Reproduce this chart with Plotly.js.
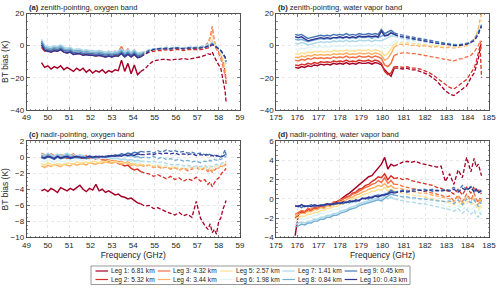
<!DOCTYPE html>
<html><head><meta charset="utf-8">
<script src="https://cdn.plot.ly/plotly-3.0.1.min.js"></script>
<style>html,body{margin:0;padding:0;background:#fff}#chart{width:500px;height:289px}</style>
</head><body><div id="chart"></div>
<script>
// ---------- categories / labels ----------
const LEG_LABELS = ['Leg 1: 6.81 km','Leg 2: 5.32 km','Leg 3: 4.32 km','Leg 4: 3.44 km','Leg 5: 2.57 km',
                    'Leg 6: 1.98 km','Leg 7: 1.41 km','Leg 8: 0.84 km','Leg 9: 0.45 km','Leg 10: 0.43 km'];
const COLORS = ['#a50026','#d73027','#f46d43','#fdae61','#fee090','#e0f3f8','#abd9e9','#74add1','#4575b4','#313695'];
const PANEL_TITLES = ['<b>(a)</b> zenith-pointing, oxygen band','<b>(b)</b> zenith-pointing, water vapor band',
                      '<b>(c)</b> nadir-pointing, oxygen band','<b>(d)</b> nadir-pointing, water vapor band'];

// ---------- frequency grids (GHz) ----------
const FREQ_O2 = [49.70,49.85,50.00,50.15,50.30,50.45,50.60,50.75, 50.90,51.05,51.20,51.35,51.50,51.65,51.80,51.95,
  52.10,52.25,52.40,52.55,52.70,52.85,53.00,53.15, 53.30,53.45,53.60,53.75,53.90,54.05,54.20,54.35,
  54.55,54.75,54.95,55.15,55.35,55.55,55.75,55.95, 56.15,56.35,56.55,56.75,56.95,57.15,57.35,57.50,
  57.60,57.70,57.80,57.90,58.00,58.10,58.20,58.30, 58.35];
const FREQ_WV = [175.90,176.05,176.20,176.35,176.50,176.65,176.80,176.95, 177.10,177.25,177.40,177.55,177.70,177.85,178.00,178.15,
  178.30,178.45,178.60,178.75,178.90,179.05,179.20,179.35, 179.50,179.65,179.80,179.95,180.10,180.25,180.40,180.55,
  180.75,180.95,181.15,181.35,181.55,181.75,181.95,182.15, 182.35,182.55,182.75,182.95,183.15,183.35,183.55,183.75,
  183.95,184.15,184.30,184.40,184.50,184.58,184.65];
const SOLID_END_O2 = 54.35;   // channels above are dashed
const SOLID_END_WV = 180.55;

// ---------- (a) zenith, oxygen band: BT bias (K) ----------
const zenO2_leg1 = [-10.5,-13.5,-12.5,-14.5,-13.0,-14.0,-12.5,-15.0, -13.5,-14.5,-16.0,-14.0,-15.5,-14.0,-16.5,-15.0,
  -17.0,-15.5,-16.5,-15.0,-17.0,-15.5,-16.5,-15.0, -15.5,-9.0,-16.0,-11.0,-17.5,-12.0,-18.0,-16.0,
  -14.5,-11.5,-9.5,-9.0,-8.5,-8.5,-9.0,-8.5, -8.5,-8.0,-8.5,-8.0,-7.5,-7.0,-6.0,-5.0, -5.5,-4.0,-7.0,-10.0,-12.0,-14.0,-20.0,-28.0, -35.0];
const zenO2_leg2 = [-1.0,-3.5,-3.0,-4.0,-3.0,-3.5,-2.5,-4.0, -4.5,-4.0,-5.5,-5.0,-5.0,-6.0,-5.5,-6.0,
  -6.0,-6.5,-6.0,-6.5,-7.0,-6.5,-7.0,-6.0, -6.5,-4.0,-6.5,-5.0,-7.0,-5.5,-7.5,-6.5,
  -5.5,-4.0,-3.5,-3.0,-3.0,-2.5,-3.0,-2.5, -2.5,-3.0,-2.5,-2.5,-2.5,-2.5,-2.0,-1.5, -1.0,3.0,0.0,-2.0,-4.0,-6.0,-10.0,-16.0, -24.0];
const zenO2_leg3 = [2.0,-0.5,-1.0,-1.5,-0.5,-1.0,0.0,-1.5, -2.0,-1.5,-3.0,-2.5,-2.5,-3.5,-3.0,-3.5,
  -3.5,-4.0,-3.0,-4.0,-4.5,-3.5,-4.5,-3.5, -4.0,-0.5,-4.5,-2.0,-5.0,-2.5,-5.5,-4.5,
  -4.0,-3.0,-2.5,-2.0,-2.0,-1.5,-2.0,-1.5, -1.5,-2.0,-1.5,-1.5,-1.5,-1.0,-0.5,2.0, 5.0,12.0,3.0,-2.0,-5.0,-8.0,-13.0,-18.0, -21.0];
const zenO2_leg4 = [1.5,-1.5,-1.5,-2.0,-1.0,-1.5,-0.5,-2.0, -2.5,-2.0,-3.5,-3.0,-3.0,-4.0,-3.5,-4.0,
  -4.0,-4.5,-4.0,-4.5,-5.0,-4.5,-5.0,-4.5, -5.0,-2.0,-5.0,-3.0,-5.5,-3.5,-6.0,-5.0,
  -4.0,-3.0,-2.5,-2.0,-2.0,-1.5,-2.0,-1.5, -1.5,-2.0,-1.5,-1.5,-1.5,-1.0,-0.5,1.0, 4.0,8.0,2.0,-1.5,-4.0,-6.0,-10.0,-15.0, -19.0];
const zenO2_leg5 = [2.5,-1.0,-1.5,-2.0,-1.0,-1.5,-0.5,-2.0, -2.5,-2.0,-3.5,-3.0,-3.0,-4.0,-3.5,-4.0,
  -4.0,-4.5,-4.0,-4.5,-5.0,-4.5,-5.0,-4.5, -4.5,-2.5,-5.0,-3.5,-5.0,-3.5,-5.5,-5.0,
  -4.0,-3.0,-2.5,-2.0,-2.0,-1.5,-1.5,-1.5, -1.5,-1.5,-1.5,-1.5,-1.0,-1.0,-0.5,0.0, 2.0,4.0,1.0,-1.0,-3.0,-5.0,-8.0,-12.0, -16.0];
const zenO2_leg6 = [3.0,-0.5,-1.0,-1.5,-0.5,-1.0,0.0,-1.5, -2.0,-1.5,-3.0,-2.5,-2.5,-3.5,-3.0,-3.5,
  -3.5,-4.0,-3.5,-4.0,-4.5,-4.0,-4.5,-4.0, -4.0,-2.5,-4.5,-3.0,-4.5,-3.0,-5.0,-4.5,
  -3.5,-2.5,-2.0,-1.5,-1.5,-1.0,-1.5,-1.0, -1.0,-1.5,-1.0,-1.0,-1.0,-0.5,0.0,0.5, 1.5,2.5,1.0,-0.5,-2.0,-4.0,-6.0,-10.0, -14.0];
const zenO2_leg7 = [4.0,0.0,-0.5,-1.0,0.0,-0.5,0.5,-1.0, -1.5,-1.0,-2.5,-2.0,-2.0,-3.0,-2.5,-3.0,
  -3.0,-3.5,-3.0,-3.5,-4.0,-3.5,-4.0,-3.5, -3.5,-2.0,-4.0,-2.5,-4.0,-2.5,-4.5,-4.0,
  -3.5,-2.5,-2.0,-1.5,-1.5,-1.0,-1.5,-1.0, -1.0,-1.5,-1.0,-1.0,-1.0,-0.5,0.0,0.5, 1.0,2.0,1.0,0.0,-1.5,-3.0,-5.0,-8.0, -12.0];
const zenO2_leg8 = [3.0,-1.0,-1.5,-2.0,-1.0,-1.5,-0.5,-2.0, -2.5,-2.0,-3.5,-3.0,-3.0,-4.0,-3.5,-4.0,
  -4.0,-4.5,-4.0,-4.5,-5.0,-4.5,-5.0,-4.5, -4.5,-3.0,-5.0,-3.5,-5.0,-3.5,-5.5,-5.0,
  -4.0,-3.0,-2.0,-2.0,-1.5,-1.5,-1.5,-1.0, -1.5,-1.5,-1.0,-1.0,-1.0,-1.0,-0.5,0.0, 0.5,1.5,0.5,-0.5,-2.0,-3.0,-5.0,-7.0, -10.0];
const zenO2_leg9 = [2.0,-2.0,-2.5,-3.0,-2.0,-2.5,-1.5,-3.0, -3.5,-3.0,-4.5,-4.0,-4.0,-5.0,-4.5,-5.0,
  -5.0,-5.5,-5.0,-5.5,-6.0,-5.5,-6.0,-5.5, -5.5,-4.0,-6.0,-4.5,-6.0,-4.5,-6.5,-6.0,
  -4.5,-3.0,-2.5,-2.0,-2.0,-1.5,-2.0,-1.5, -1.5,-2.0,-1.5,-1.5,-1.5,-1.0,-1.0,-0.5, 0.0,1.0,0.0,-1.0,-2.0,-3.0,-5.0,-7.0, -10.0];
const zenO2_leg10 = [0.5,-3.0,-3.5,-4.0,-3.0,-3.5,-2.5,-4.0, -4.5,-4.0,-5.5,-5.0,-5.0,-6.0,-5.5,-6.0,
  -6.0,-6.5,-6.0,-6.5,-7.0,-6.5,-7.0,-6.5, -6.5,-5.0,-7.0,-5.5,-7.0,-5.5,-7.5,-7.0,
  -5.0,-3.5,-2.5,-2.0,-2.0,-2.0,-2.0,-1.5, -1.5,-2.0,-1.5,-1.5,-1.5,-1.5,-1.0,-0.5, 0.0,0.5,0.0,-1.0,-2.0,-3.0,-5.0,-7.0, -9.0];

// ---------- (b) zenith, water vapor band ----------
const zenWV_leg1 = [-13.5,-14.0,-13.0,-13.5,-12.5,-13.0,-12.0,-12.5, -11.5,-12.0,-11.5,-12.0,-11.0,-11.5,-11.0,-11.5,
  -10.5,-11.5,-11.0,-11.5,-10.5,-11.0,-11.0,-10.5, -11.5,-10.5,-11.0,-12.0,-15.0,-17.0,-19.0,-14.0,
  -14.0,-14.5,-14.0,-15.0,-15.0,-16.0,-17.0,-18.0, -20.0,-22.0,-25.0,-28.0,-30.0,-31.0,-29.0,-27.0, -25.0,-20.0,-17.0,-13.0,-8.0,-2.0,3.0];
const zenWV_leg2 = [-12.0,-12.5,-11.5,-12.0,-11.0,-11.5,-10.5,-11.0, -10.0,-10.5,-10.0,-10.5,-9.5,-10.0,-9.5,-10.0,
  -9.0,-10.0,-9.5,-10.0,-9.0,-9.5,-9.5,-9.0, -10.0,-9.0,-9.5,-11.0,-16.0,-18.0,-17.0,-13.0,
  -13.0,-13.5,-13.0,-14.0,-14.0,-14.5,-15.5,-16.5, -18.0,-20.0,-22.0,-24.0,-26.0,-27.0,-25.0,-23.0, -21.0,-17.0,-14.0,-10.0,-5.0,0.0,-20.0];
const zenWV_leg3 = [-9.0,-9.5,-8.5,-9.0,-8.0,-8.5,-7.5,-8.0, -7.5,-8.0,-7.5,-8.0,-7.0,-7.5,-7.0,-7.5,
  -6.5,-7.5,-7.0,-7.5,-6.5,-7.0,-7.0,-6.5, -7.5,-6.5,-7.0,-8.0,-12.0,-13.0,-11.0,-6.0,
  -5.0,-4.5,-4.5,-5.0,-5.0,-5.5,-6.0,-6.5, -7.0,-7.5,-8.0,-8.5,-9.0,-9.5,-8.5,-8.0, -7.0,-6.0,-4.0,-2.0,0.0,3.0,-2.0];
const zenWV_leg4 = [-7.0,-7.5,-6.5,-7.0,-6.0,-6.5,-5.5,-6.0, -5.5,-6.0,-5.5,-6.0,-5.0,-5.5,-5.0,-5.5,
  -4.5,-5.5,-5.0,-5.5,-4.5,-5.0,-5.0,-4.5, -5.5,-4.5,-5.0,-6.0,-9.0,-8.0,-5.0,-1.0,
  1.0,0.5,1.0,0.0,0.5,-0.5,0.0,-0.5, -1.0,-0.5,-1.0,-1.5,-1.0,-1.5,-1.0,-0.5, 0.0,2.0,4.0,7.0,11.0,16.0,20.0];
const zenWV_leg5 = [-5.0,-5.5,-4.5,-5.0,-4.0,-4.5,-3.5,-4.0, -3.5,-4.0,-3.5,-4.0,-3.0,-3.5,-3.0,-3.5,
  -2.5,-3.5,-3.0,-3.5,-2.5,-3.0,-3.0,-2.5, -3.5,-2.5,-3.0,-4.0,-6.0,-5.0,-2.0,1.0,
  2.0,1.5,2.0,1.0,1.5,0.5,1.0,0.0, 0.5,0.0,-0.5,0.0,-0.5,-1.0,-0.5,0.0, 1.0,2.5,4.5,7.0,10.0,14.0,16.0];
const zenWV_leg6 = [-2.0,-2.5,-1.5,-2.0,-1.0,-1.5,-0.5,-1.0, -0.5,-1.0,-0.5,-1.0,0.0,-0.5,0.0,-0.5,
  0.5,-0.5,0.0,-0.5,0.5,0.0,0.0,0.5, -0.5,0.5,0.0,-1.0,-2.0,-1.0,1.0,3.0,
  3.0,2.5,3.0,2.0,2.5,1.5,2.0,1.0, 1.5,1.0,0.5,1.0,0.5,0.0,0.5,0.0, 1.0,2.0,4.0,6.0,9.0,12.0,14.0];
const zenWV_leg7 = [1.5,1.0,2.0,1.5,0.5,1.0,1.5,2.0, 2.5,2.0,2.5,2.0,3.0,2.5,3.0,2.5,
  3.5,2.5,3.0,2.5,3.5,3.0,3.0,3.5, 2.5,3.5,3.0,3.0,4.0,5.0,6.0,6.0,
  5.0,4.5,4.0,3.5,3.5,3.0,2.5,2.0, 2.5,1.5,1.5,1.0,1.5,1.0,0.5,1.0, 1.5,2.5,4.0,6.0,9.0,11.0,12.0];
const zenWV_leg8 = [4.0,3.5,4.0,3.0,2.5,3.0,3.5,4.0, 4.5,4.0,4.5,4.0,5.0,4.5,5.0,4.5,
  5.5,4.5,5.0,4.5,5.5,5.0,5.0,5.5, 4.5,5.5,5.0,6.0,6.5,7.0,8.0,7.0,
  6.0,5.5,5.0,4.5,4.0,3.5,3.0,2.5, 2.0,1.5,1.5,1.0,1.0,0.5,0.5,1.0, 1.5,2.5,4.0,6.0,8.0,11.0,12.0];
const zenWV_leg9 = [7.0,6.5,7.0,5.5,4.5,5.0,5.5,6.0, 6.5,6.0,6.5,6.0,7.0,6.5,7.0,6.5,
  7.5,6.5,7.0,6.5,7.5,7.0,7.0,7.5, 7.0,7.5,7.0,10.0,7.5,8.5,9.5,8.0,
  7.0,6.5,6.0,5.5,5.0,4.5,4.0,3.5, 3.0,2.5,2.0,1.5,1.0,0.5,0.5,0.5, 1.0,2.0,3.5,5.0,8.0,11.0,13.0];
const zenWV_leg10 = [5.5,5.0,5.5,4.0,3.0,3.5,4.0,4.5, 5.0,4.5,5.0,4.5,5.0,5.0,5.5,5.0,
  5.5,5.0,5.5,5.0,6.0,5.5,5.5,6.0, 5.5,6.0,5.5,9.0,6.0,6.5,8.0,7.0,
  6.0,5.5,5.0,4.5,4.0,3.5,3.0,2.5, 2.0,1.5,1.0,1.0,0.5,0.0,0.0,0.5, 1.0,2.0,3.0,5.0,7.0,10.0,12.0];

// ---------- (c) nadir, oxygen band ----------
const nadO2_leg1 = [-4.2,-4.0,-4.3,-3.9,-4.1,-4.4,-3.8,-4.0, -4.2,-3.9,-4.1,-3.8,-3.5,-4.0,-4.3,-3.9,
  -4.1,-3.4,-4.2,-4.0,-4.4,-4.2,-4.5,-4.7, -4.6,-4.9,-5.0,-5.2,-5.1,-5.4,-5.7,-5.8,
  -6.1,-6.0,-6.4,-6.3,-6.6,-6.8,-7.0,-7.2, -6.9,-7.3,-7.1,-7.5,-5.5,-7.6,-8.5,-9.0, -8.3,-9.4,-9.0,-9.6,-8.0,-7.6,-6.5,-5.8, -5.4];
const nadO2_leg2 = [0.2,-0.1,0.3,0.0,-0.2,0.2,-0.1,0.1, -0.2,0.0,0.2,-0.1,0.0,-0.3,0.1,-0.2,
  0.0,-0.3,-0.1,-0.4,-0.3,-0.5,-0.6,-0.5, -0.8,-0.9,-1.1,-1.0,-1.4,-1.6,-1.5,-1.8,
  -2.0,-2.1,-2.4,-2.2,-2.5,-2.7,-2.4,-2.8, -2.6,-3.0,-2.7,-2.9,-2.5,-3.0,-2.8,-3.4, -3.1,-3.7,-3.2,-2.8,-2.6,-2.2,-1.8,-1.6, -1.4];
const nadO2_leg3 = [0.5,0.3,0.1,0.4,0.2,0.0,0.3,0.1, -0.1,0.2,0.4,0.0,0.1,-0.1,0.2,-0.2,
  0.0,-0.1,-0.3,-0.2,-0.4,-0.3,-0.5,-0.4, -0.6,-0.5,-0.8,-0.6,-0.9,-0.8,-1.0,-0.9,
  -1.1,-1.0,-1.3,-1.2,-1.4,-1.2,-1.5,-1.3, -1.6,-1.4,-1.7,-1.5,-1.3,-1.6,-1.4,-1.8, -1.5,-1.9,-1.6,-1.4,-1.3,-1.1,-1.2,-1.0, -0.9];
const nadO2_leg4 = [-1.1,-1.3,-1.0,-1.2,-0.9,-1.1,-1.2,-0.9, -1.0,-1.1,-0.8,-1.0,-0.9,-0.8,-1.0,-0.7,
  -0.8,-0.9,-0.7,-0.8,-0.6,-0.7,-0.8,-0.6, -0.7,-0.9,-0.7,-0.8,-1.0,-0.9,-1.1,-1.0,
  -1.2,-1.0,-1.3,-1.1,-1.4,-1.2,-1.5,-1.3, -1.6,-1.4,-1.5,-1.3,-1.2,-1.5,-1.3,-1.6, -1.4,-1.7,-1.5,-1.3,-1.4,-1.2,-1.1,-1.0, -0.8];
const nadO2_leg5 = [-0.8,-1.0,-0.7,-0.9,-1.1,-0.8,-0.9,-1.0, -0.7,-0.8,-0.9,-0.6,-0.8,-0.7,-0.6,-0.8,
  -0.5,-0.6,-0.7,-0.5,-0.6,-0.4,-0.6,-0.5, -0.7,-0.6,-0.8,-0.7,-0.9,-0.8,-1.0,-0.9,
  -1.0,-0.9,-1.1,-1.0,-1.2,-1.1,-1.3,-1.2, -1.4,-1.3,-1.2,-1.4,-1.3,-1.5,-1.2,-1.4, -1.3,-1.5,-1.2,-1.1,-1.2,-1.0,-0.9,-0.8, -0.6];
const nadO2_leg6 = [-0.4,-0.6,-0.3,-0.5,-0.7,-0.4,-0.5,-0.6, -0.3,-0.4,-0.5,-0.2,-0.4,-0.3,-0.2,-0.4,
  -0.1,-0.2,-0.3,-0.1,-0.2,-0.1,-0.3,-0.2, -0.4,-0.3,-0.5,-0.4,-0.6,-0.5,-0.7,-0.6,
  -0.7,-0.6,-0.8,-0.9,-1.0,-1.1,-1.0,-1.2, -1.1,-1.3,-1.2,-1.4,-1.3,-1.2,-1.4,-1.3, -1.5,-1.3,-1.2,-1.3,-1.1,-1.0,-0.9,-0.8, -0.7];
const nadO2_leg7 = [0.4,0.2,0.5,0.3,0.1,0.4,0.2,0.3, 0.5,0.2,0.3,0.1,0.3,0.2,0.0,0.2,
  0.1,-0.1,0.1,0.0,-0.1,0.0,-0.2,-0.1, -0.2,-0.3,-0.2,-0.4,-0.3,-0.5,-0.4,-0.5,
  -0.5,-0.6,-0.5,-0.7,-0.6,-0.8,-0.9,-1.0, -0.9,-1.1,-1.0,-1.2,-1.1,-1.2,-1.0,-1.3, -1.1,-1.2,-1.0,-0.9,-1.0,-0.8,-0.7,-0.6, -0.5];
const nadO2_leg8 = [0.2,0.0,0.3,0.1,-0.1,0.2,0.0,0.1, 0.3,0.0,0.1,-0.1,0.1,0.0,-0.1,0.1,
  0.0,-0.1,0.1,0.0,0.1,0.0,0.1,0.2, 0.1,0.3,0.2,0.1,0.2,0.0,0.1,-0.1,
  0.0,-0.1,0.1,-0.2,0.0,-0.3,-0.2,-0.4, -0.3,-0.5,-0.4,-0.6,-0.5,-0.7,-0.5,-0.6, -0.4,-0.5,-0.3,-0.4,-0.2,-0.3,-0.1,0.0, 0.1];
const nadO2_leg9 = [-0.1,-0.2,0.0,-0.1,-0.3,0.0,-0.2,-0.1, 0.0,-0.2,-0.1,0.0,-0.1,0.0,-0.2,0.0,
  -0.1,0.0,0.1,0.0,0.1,0.2,0.1,0.3, 0.2,0.4,0.3,0.5,0.4,0.6,0.5,0.7,
  0.6,0.7,0.5,0.8,0.6,0.9,0.7,0.8, 0.6,0.7,0.5,0.6,0.4,0.5,0.3,0.4, 0.3,0.2,0.3,0.1,0.2,0.0,0.3,0.9, 0.2];
const nadO2_leg10 = [0.0,-0.1,0.1,0.0,-0.2,0.1,-0.1,0.0, 0.1,-0.1,0.0,0.1,0.0,-0.1,0.0,0.1,
  0.0,0.1,0.0,0.1,0.0,0.1,0.2,0.1, 0.2,0.1,0.3,0.2,0.3,0.2,0.4,0.3,
  0.3,0.4,0.3,0.5,0.4,0.5,0.4,0.5, 0.3,0.4,0.3,0.4,0.2,0.3,0.2,0.3, 0.1,0.2,0.1,0.2,0.1,0.0,0.1,0.3, 0.1];

// ---------- (d) nadir, water vapor band ----------
const nadWV_leg1 = [-3.8,-1.6,-1.3,-1.4,-1.0,-1.2,-0.9,-1.0, -0.7,-0.9,-0.6,-0.7,-0.4,-0.3,-0.1,0.2,
  0.4,0.6,0.9,1.1,1.5,1.7,2.0,2.3, 2.4,2.8,3.2,3.6,4.3,3.1,3.6,3.4,
  3.6,3.8,3.9,3.8,3.9,3.7,3.6,3.5, 3.4,3.3,3.4,1.8,2.6,1.5,3.0,2.2, 4.3,2.8,4.2,3.3,3.6,2.8,2.4];
const nadWV_leg2 = [-2.0,-1.6,-1.3,-1.5,-1.1,-1.2,-0.9,-1.0, -0.8,-0.9,-0.6,-0.7,-0.4,-0.5,-0.2,0.0,
  0.2,0.3,0.6,0.7,1.0,1.1,1.4,1.5, 1.8,2.0,2.3,2.2,2.6,2.0,2.4,2.1,
  2.2,2.0,2.1,1.9,1.8,1.7,1.6,1.5, 1.4,1.2,1.1,0.9,0.8,0.5,1.0,0.4, 1.2,0.6,1.3,0.7,0.9,0.5,0.6];
const nadWV_leg3 = [-1.6,-1.4,-1.2,-1.3,-1.0,-1.1,-0.8,-0.9, -0.7,-0.8,-0.5,-0.6,-0.3,-0.4,-0.1,0.0,
  0.1,0.3,0.5,0.6,0.8,1.0,1.2,1.3, 1.5,1.6,1.9,1.7,2.2,1.6,1.9,1.5,
  1.5,1.3,1.2,1.1,1.0,0.9,0.8,0.7, 0.6,0.5,0.4,0.2,0.3,-0.2,0.4,-0.3, 0.5,-0.1,0.6,0.0,-0.4,0.2,-0.3];
const nadWV_leg4 = [-1.8,-1.6,-1.5,-1.5,-1.3,-1.3,-1.1,-1.1, -0.9,-1.0,-0.7,-0.8,-0.5,-0.6,-0.3,-0.2,
  -0.1,0.1,0.2,0.4,0.5,0.7,0.8,1.0, 1.1,1.2,1.4,1.3,1.6,1.2,1.4,1.1,
  1.1,1.0,0.9,0.8,0.7,0.6,0.6,0.5, 0.4,0.3,0.2,0.1,0.0,-0.3,0.2,-0.4, 0.3,-0.2,0.2,-0.3,-0.6,0.0,-0.5];
const nadWV_leg5 = [-2.1,-1.9,-1.8,-1.8,-1.6,-1.6,-1.4,-1.4, -1.2,-1.2,-1.0,-1.0,-0.8,-0.8,-0.6,-0.5,
  -0.3,-0.2,0.0,0.1,0.2,0.4,0.5,0.6, 0.8,0.8,1.0,0.9,1.2,0.8,1.0,0.8,
  0.7,0.6,0.5,0.4,0.4,0.3,0.2,0.1, 0.0,-0.1,-0.2,-0.3,-0.4,-0.6,-0.3,-0.7, -0.2,-0.6,-0.4,-0.8,-1.1,-0.6,-1.0];
const nadWV_leg6 = [-2.4,-2.2,-2.1,-2.1,-1.9,-1.9,-1.7,-1.7, -1.5,-1.5,-1.3,-1.3,-1.1,-1.1,-0.9,-0.8,
  -0.7,-0.5,-0.4,-0.3,-0.1,0.0,0.1,0.2, 0.3,0.4,0.5,0.4,0.7,0.4,0.6,0.4,
  0.3,0.2,0.1,0.0,-0.1,-0.1,-0.2,-0.3, -0.4,-0.5,-0.6,-0.7,-0.8,-1.0,-0.7,-1.1, -0.8,-1.2,-0.9,-1.3,-1.5,-1.0,-1.4];
const nadWV_leg7 = [-2.7,-2.5,-2.4,-2.5,-2.3,-2.3,-2.1,-2.1, -1.9,-1.9,-1.7,-1.7,-1.5,-1.5,-1.3,-1.2,
  -1.1,-0.9,-0.8,-0.7,-0.5,-0.4,-0.3,-0.2, -0.1,0.0,0.1,0.0,0.3,0.0,0.2,0.0,
  -0.1,-0.2,-0.3,-0.3,-0.4,-0.5,-0.5,-0.6, -0.7,-0.8,-0.9,-1.0,-1.1,-1.3,-1.0,-1.5, -1.1,-1.6,-1.2,-1.7,-1.9,-1.4,-1.8];
const nadWV_leg8 = [-2.9,-2.8,-2.6,-2.7,-2.5,-2.5,-2.3,-2.3, -2.1,-2.1,-1.9,-1.9,-1.7,-1.7,-1.5,-1.4,
  -1.3,-1.1,-1.0,-0.9,-0.7,-0.6,-0.5,-0.4, -0.3,-0.2,-0.1,-0.2,0.1,0.3,0.5,0.4,
  0.3,0.2,0.2,0.1,0.1,0.0,0.0,-0.1, -0.1,-0.2,-0.2,-0.3,-0.2,-0.5,-0.1,-0.6, 0.0,-0.4,-0.1,-0.5,-0.8,-0.3,-0.6];
const nadWV_leg9 = [-0.8,-0.7,-0.9,-0.7,-0.8,-0.6,-0.8,-0.7, -0.6,-0.7,-0.6,-0.5,-0.6,-0.5,-0.4,-0.5,
  -0.3,-0.4,-0.2,-0.3,-0.1,0.0,0.1,0.0, 0.2,0.3,0.4,0.3,0.5,0.6,0.9,0.7,
  0.8,0.9,0.8,0.9,1.0,0.9,1.0,0.9, 1.0,0.8,0.9,1.0,0.9,1.2,0.8,1.4, 1.0,1.3,0.8,1.1,0.7,0.9,0.8];
const nadWV_leg10 = [-0.7,-0.8,-0.6,-0.8,-0.7,-0.8,-0.6,-0.7, -0.7,-0.6,-0.5,-0.6,-0.5,-0.4,-0.5,-0.3,
  -0.4,-0.2,-0.3,-0.1,-0.2,0.1,0.0,0.2, 0.1,0.3,0.2,0.4,0.4,0.5,0.7,0.6,
  0.7,0.8,0.7,0.8,0.8,0.9,0.8,0.9, 0.8,0.9,0.8,0.9,0.8,1.0,0.7,1.1, 0.9,1.2,0.7,1.0,0.6,0.8,0.7];

const ZEN_O2 = [zenO2_leg1,zenO2_leg2,zenO2_leg3,zenO2_leg4,zenO2_leg5,zenO2_leg6,zenO2_leg7,zenO2_leg8,zenO2_leg9,zenO2_leg10];
const ZEN_WV = [zenWV_leg1,zenWV_leg2,zenWV_leg3,zenWV_leg4,zenWV_leg5,zenWV_leg6,zenWV_leg7,zenWV_leg8,zenWV_leg9,zenWV_leg10];
const NAD_O2 = [nadO2_leg1,nadO2_leg2,nadO2_leg3,nadO2_leg4,nadO2_leg5,nadO2_leg6,nadO2_leg7,nadO2_leg8,nadO2_leg9,nadO2_leg10];
const NAD_WV = [nadWV_leg1,nadWV_leg2,nadWV_leg3,nadWV_leg4,nadWV_leg5,nadWV_leg6,nadWV_leg7,nadWV_leg8,nadWV_leg9,nadWV_leg10];

// ---------- build traces ----------
const FONT = 'Liberation Sans, Arial, Helvetica, sans-serif';
const TXT = '#262626';
const traces = [];
function addPanel(X, series, solidEnd, xa, ya, name) {
  const k = X.indexOf(solidEnd);
  series.forEach((Y, i) => {
    if (Y.length !== X.length) throw new Error(name + ' leg' + (i+1) + ' length ' + Y.length + ' != ' + X.length);
    traces.push({type:'scatter', mode:'lines', x:X.slice(0, k+1), y:Y.slice(0, k+1), xaxis:xa, yaxis:ya,
      line:{color:COLORS[i], width:1.45}, showlegend:false, hoverinfo:'skip', name:LEG_LABELS[i]});
    traces.push({type:'scatter', mode:'lines', x:X.slice(k), y:Y.slice(k), xaxis:xa, yaxis:ya,
      line:{color:COLORS[i], width:1.3, dash:'4px,2px'}, showlegend:false, hoverinfo:'skip', name:LEG_LABELS[i]});
  });
}
addPanel(FREQ_O2, ZEN_O2, SOLID_END_O2, 'x', 'y', 'a');
addPanel(FREQ_WV, ZEN_WV, SOLID_END_WV, 'x2', 'y2', 'b');
addPanel(FREQ_O2, NAD_O2, SOLID_END_O2, 'x3', 'y3', 'c');
addPanel(FREQ_WV, NAD_WV, SOLID_END_WV, 'x4', 'y4', 'd');

// ---------- layout ----------
const W = 500, H = 289;
const px = v => v / W, py = v => 1 - v / H;
const DX_L = [px(26.5), px(240)], DX_R = [px(276), px(489)];
const DY_T = [py(110), py(13.5)], DY_B = [py(237.5), py(141)];

function xaxis(range, domain, anchor, withTitle) {
  return {range, domain, anchor, dtick:1, tick0:range[0], showline:true, linecolor:TXT, linewidth:0.8, mirror:'allticks',
    ticks:'inside', ticklen:3, tickwidth:0.6, tickcolor:TXT, showgrid:true, gridcolor:'#dedede', griddash:'dot', gridwidth:0.7,
    zeroline:false, automargin:false, fixedrange:true, tickfont:{family:FONT, size:8, color:TXT},
    minor:{ticks:'inside', ticklen:1.5, dtick:0.2, tickcolor:TXT, tickwidth:0.5, showgrid:false},
    title: withTitle ? {text:'Frequency (GHz)', font:{family:FONT, size:8.5, color:TXT}, standoff:3} : {text:''}};
}
function yaxis(range, dtick, minor, domain, anchor, withTitle) {
  return {range, domain, anchor, dtick, tick0:range[0], showline:true, linecolor:TXT, linewidth:0.8, mirror:'allticks',
    ticks:'inside', ticklen:3, tickwidth:0.6, tickcolor:TXT, showgrid:true, gridcolor:'#dedede', griddash:'dot', gridwidth:0.7,
    zeroline:false, automargin:false, fixedrange:true, tickfont:{family:FONT, size:8, color:TXT},
    minor:{ticks:'inside', ticklen:1.5, dtick:minor, tickcolor:TXT, tickwidth:0.5, showgrid:false},
    title: withTitle ? {text:'BT bias (K)', font:{family:FONT, size:8.5, color:TXT}, standoff:3} : {text:''}};
}

const annotations = [];
const shapes = [];
const titlePos = [[26.5, 7], [276, 7], [26.5, 134.5], [276, 134.5]];
PANEL_TITLES.forEach((t, i) => annotations.push({xref:'paper', yref:'paper', x:px(titlePos[i][0]), y:py(titlePos[i][1]),
  xanchor:'left', yanchor:'middle', text:t, showarrow:false, font:{family:FONT, size:7.6, color:TXT}}));

// legend box (5 columns x 2 rows, filled column-wise)
shapes.push({type:'rect', xref:'paper', yref:'paper', x0:px(91), x1:px(410), y0:py(284.5), y1:py(266),
  line:{color:'#7f7f7f', width:0.8}, fillcolor:'#fff'});
LEG_LABELS.forEach((lab, i) => {
  const col = Math.floor(i / 2), row = i % 2;
  const x0 = 95.5 + col * 62.3, yy = row ? 279.5 : 271;
  shapes.push({type:'line', xref:'paper', yref:'paper', x0:px(x0), x1:px(x0 + 12.5), y0:py(yy), y1:py(yy),
    line:{color:COLORS[i], width:1.2}});
  annotations.push({xref:'paper', yref:'paper', x:px(x0 + 13.5), y:py(yy), xanchor:'left', yanchor:'middle',
    text:lab, showarrow:false, font:{family:FONT, size:6.6, color:TXT}});
});

const layout = {
  width:W, height:H, margin:{l:0, r:0, t:0, b:0}, paper_bgcolor:'#fff', plot_bgcolor:'#fff', showlegend:false,
  xaxis: xaxis([49,59], DX_L, 'y', false),
  yaxis: yaxis([-40,20], 20, 5, DY_T, 'x', true),
  xaxis2: xaxis([175,185], DX_R, 'y2', false),
  yaxis2: yaxis([-40,20], 20, 5, DY_T, 'x2', false),
  xaxis3: xaxis([49,59], DX_L, 'y3', true),
  yaxis3: yaxis([-10,2], 2, 0.5, DY_B, 'x3', true),
  xaxis4: xaxis([175,185], DX_R, 'y4', true),
  yaxis4: yaxis([-4,6], 2, 0.5, DY_B, 'x4', false),
  annotations, shapes
};
Plotly.newPlot('chart', traces, layout, {displayModeBar:false, staticPlot:true});
</script></body></html>
